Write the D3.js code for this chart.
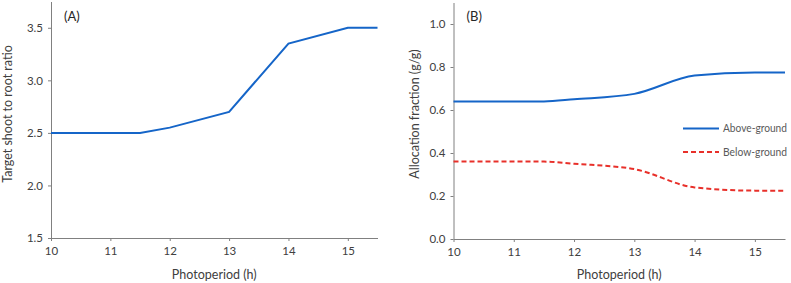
<!DOCTYPE html>
<html>
<head>
<meta charset="utf-8">
<script src="https://cdn.jsdelivr.net/npm/d3@7"></script>
<style>
  body { margin: 0; background: #fff; overflow: hidden; }
  svg { font-family: Lato, "Noto Sans", sans-serif; display: block; }
  .axis path, .axis line { stroke: #808080; }
  .axis text { fill: #404040; font-size: 11.5px; font-family: Lato, sans-serif; }
</style>
</head>
<body>
<div id="chart"></div>
<script>
// photoperiod (h)
var hours = [10, 11, 11.5, 12, 13, 14, 15, 15.5];
// panel A
var shootRoot = [2.5, 2.5, 2.5, 2.55, 2.7, 3.35, 3.5, 3.5];
// panel B
var aboveGround = [0.64, 0.64, 0.64, 0.65, 0.675, 0.76, 0.775, 0.775];
var belowGround = [0.36, 0.36, 0.36, 0.35, 0.325, 0.24, 0.225, 0.225];
var xTicks = [10, 11, 12, 13, 14, 15];
var yTicksA = [1.5, 2.0, 2.5, 3.0, 3.5];
var yTicksB = [0, 0.2, 0.4, 0.6, 0.8, 1.0];

var width = 791, height = 283;
var blue = "#1565c8", red = "#e8302a";

var svg = d3.select("#chart").append("svg")
    .attr("width", width)
    .attr("height", height);

function panel(opt) {
    var x = d3.scaleLinear().domain([10, 15.5]).range([opt.left, opt.right]);
    var y = d3.scaleLinear().domain(opt.yDomain).range([opt.bottom, opt.top]);

    svg.append("g")
        .attr("class", "axis")
        .attr("transform", "translate(0," + opt.bottom + ")")
        .call(d3.axisBottom(x).tickValues(xTicks).tickSize(3).tickSizeOuter(0).tickPadding(6)
            .tickFormat(d3.format("d")));

    svg.append("g")
        .attr("class", "axis")
        .attr("transform", "translate(" + opt.left + ",0)")
        .call(d3.axisLeft(y).tickValues(opt.yTicks).tickSize(3).tickSizeOuter(0).tickPadding(5)
            .tickFormat(d3.format(".1f")));

    svg.append("text")
        .attr("x", (opt.left + opt.right) / 2)
        .attr("y", 279)
        .attr("text-anchor", "middle")
        .attr("fill", "#404040")
        .style("font-size", "12.5px")
        .text("Photoperiod (h)");

    svg.append("text")
        .attr("transform", "translate(" + opt.yLabelX + ",114) rotate(-90)")
        .attr("text-anchor", "middle")
        .attr("fill", "#404040")
        .style("font-size", "12.5px")
        .text(opt.yLabel);

    svg.append("text")
        .attr("x", opt.left + 13)
        .attr("y", 21)
        .attr("fill", "#262626")
        .style("font-size", "13px")
        .text(opt.tag);

    opt.series.forEach(function (s) {
        var line = d3.line()
            .x(function (d, i) { return x(hours[i]); })
            .y(function (d) { return y(d); })
            .curve(opt.curve);
        svg.append("path")
            .datum(s.values)
            .attr("fill", "none")
            .attr("stroke", s.color)
            .attr("stroke-width", 2)
            .attr("stroke-dasharray", s.dash || null)
            .attr("d", line);
    });
    return { x: x, y: y };
}

panel({
    left: 51, right: 377.5, top: 1.5, bottom: 238,
    yDomain: [1.5, 3.75], yTicks: yTicksA, curve: d3.curveLinear,
    yLabel: "Target shoot to root  ratio", yLabelX: 12, tag: "(A)",
    series: [{ values: shootRoot, color: blue }]
});

panel({
    left: 453.5, right: 785, top: 2.5, bottom: 239,
    yDomain: [0, 1.1], yTicks: yTicksB, curve: d3.curveMonotoneX,
    yLabel: "Allocation fraction (g/g)", yLabelX: 419, tag: "(B)",
    series: [
        { values: aboveGround, color: blue },
        { values: belowGround, color: red, dash: "5,3" }
    ]
});

// legend
var legend = [
    { name: "Above-ground", color: blue, dash: null, y: 128.5 },
    { name: "Below-ground", color: red, dash: "5,3", y: 152 }
];
var lg = svg.append("g").selectAll("g").data(legend).enter().append("g");
lg.append("line")
    .attr("x1", 683).attr("x2", 719)
    .attr("y1", function (d) { return d.y; })
    .attr("y2", function (d) { return d.y; })
    .attr("stroke", function (d) { return d.color; })
    .attr("stroke-width", 2)
    .attr("stroke-dasharray", function (d) { return d.dash; });
lg.append("text")
    .attr("x", 723)
    .attr("y", function (d) { return d.y; })
    .attr("dy", "0.35em")
    .attr("fill", "#595959")
    .attr("textLength", 64)
    .attr("lengthAdjust", "spacingAndGlyphs")
    .style("font-size", "11px")
    .text(function (d) { return d.name; });
</script>
</body>
</html>
